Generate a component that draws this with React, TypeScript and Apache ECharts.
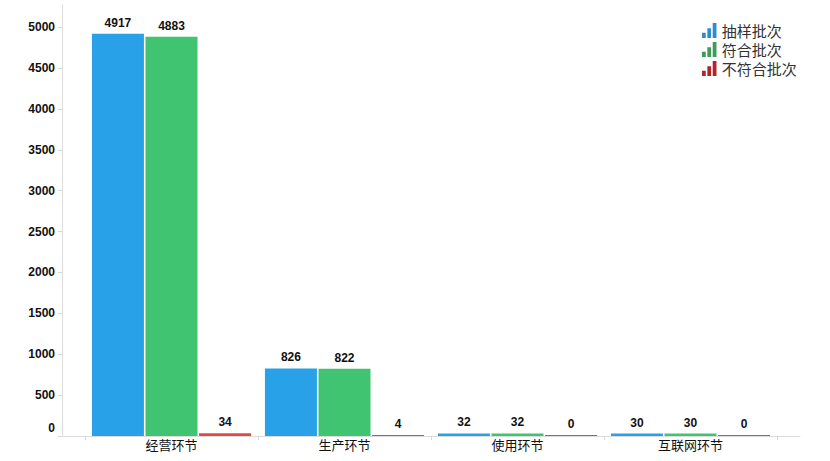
import React, { useEffect, useRef } from "react";
import * as echarts from "echarts";

const categories = ["经营环节", "生产环节", "使用环节", "互联网环节"];
const sampled = [4917, 826, 32, 30];
const passed = [4883, 822, 32, 30];
const failed = [34, 4, 0, 0];
const seriesNames = ["抽样批次", "符合批次", "不符合批次"];
const yTicks = [0, 500, 1000, 1500, 2000, 2500, 3000, 3500, 4000, 4500, 5000];

const barColors = ["#29a1e8", "#40c472", "#dc4b4b"];
const legendColors = ["#2e8ccf", "#3d9c58", "#b4232a"];
const icon = "path://M0,9h3.5v5h-3.5z M5,5h3.5v9h-3.5z M10,0h3.5v14h-3.5z";

export default function App() {
  const ref = useRef<HTMLDivElement>(null);
  useEffect(() => {
    const chart = echarts.init(ref.current!, null, { renderer: "svg" });
    const labelStyle = {
      show: true,
      position: "top",
      distance: 5,
      color: "#111",
      fontWeight: "bold",
      fontSize: 12,
      fontFamily: "Liberation Sans, Arial, sans-serif",
    };
    const series = [sampled, passed, failed].map((d, i) => ({
      name: seriesNames[i],
      type: "bar",
      xAxisIndex: 1,
      yAxisIndex: 1,
      data: d,
      barWidth: 52,
      barGap: "3%",
      barMinHeight: i === 2 ? 1 : 0,
      itemStyle: { color: barColors[i] },
      label: labelStyle,
    }));
    chart.setOption({
      animation: false,
      backgroundColor: "#fff",
      legend: {
        orient: "vertical",
        left: 702,
        top: 23,
        padding: 0,
        itemWidth: 15,
        itemHeight: 15,
        itemGap: 4,
        icon,
        textStyle: {
          fontSize: 15,
          color: "#333",
          fontFamily: "Noto Sans CJK SC, sans-serif",
        },
        data: seriesNames.map((n, i) => ({ name: n, itemStyle: { color: legendColors[i] } })),
      },
      grid: [
        { left: 62, right: 30, top: 5, bottom: 25, outerBoundsMode: "none" },
        { left: 85, right: 53, top: 5, bottom: 25, outerBoundsMode: "none" },
      ],
      xAxis: [
        {
          type: "value",
          gridIndex: 0,
          min: 0,
          max: 1,
          axisLine: { show: true, lineStyle: { color: "#dcdcdc" } },
          axisTick: { show: false },
          axisLabel: { show: false },
          splitLine: { show: false },
        },
        {
          type: "category",
          gridIndex: 1,
          data: categories,
          axisLine: { show: false },
          axisTick: { show: true, length: 4, lineStyle: { color: "#d8d8d8" } },
          axisLabel: {
            color: "#111",
            fontSize: 13,
            margin: 2,
            fontFamily: "Noto Sans CJK SC, sans-serif",
          },
        },
      ],
      yAxis: [
        {
          type: "value",
          gridIndex: 0,
          min: 0,
          max: 5270,
          axisLine: { show: true, lineStyle: { color: "#dcdcdc" } },
          axisTick: { show: true, length: 4, lineStyle: { color: "#d8d8d8" }, customValues: yTicks },
          splitLine: { show: false },
          axisLabel: {
            customValues: yTicks,
            margin: 7,
            color: "#111",
            fontWeight: "bold",
            fontSize: 12,
            fontFamily: "Liberation Sans, Arial, sans-serif",
            formatter: (v: number) => (v === 0 ? "{z|0}" : String(v)),
            rich: {
              z: {
                padding: [0, 0, 16, 0],
                color: "#111",
                fontWeight: "bold",
                fontSize: 12,
                fontFamily: "Liberation Sans, Arial, sans-serif",
              },
            },
          },
        },
        {
          type: "value",
          gridIndex: 1,
          min: 0,
          max: 5270,
          show: false,
          splitLine: { show: false },
        },
      ],
      series,
    });
    return () => chart.dispose();
  }, []);
  return (
    <div
      ref={ref}
      style={{ position: "fixed", left: 0, top: 0, width: 830, height: 461, background: "#fff" }}
    />
  );
}
